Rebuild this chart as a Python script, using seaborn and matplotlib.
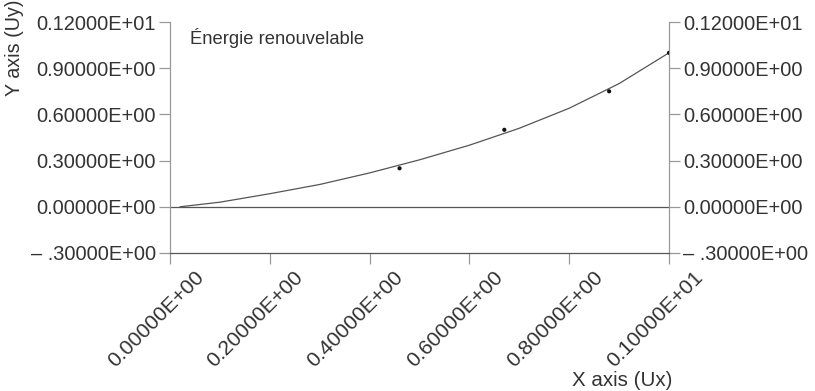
import matplotlib
matplotlib.use("Agg")
import matplotlib.pyplot as plt
import matplotlib.transforms as mtransforms
import seaborn as sns
import pandas as pd

# Fitted curve (polyline) and measured points
curve_x = [0.02, 0.1, 0.2, 0.3, 0.4, 0.5, 0.6, 0.7, 0.8, 0.9, 1.0]
curve_y = [0.0, 0.03, 0.085, 0.145, 0.22, 0.305, 0.40, 0.51, 0.64, 0.80, 1.0]
point_x = [0.46, 0.67, 0.88, 1.0]
point_y = [0.25, 0.50, 0.75, 1.0]

x_ticks = [0.0, 0.2, 0.4, 0.6, 0.8, 1.0]
x_tick_labels = ["0.00000E+00", "0.20000E+00", "0.40000E+00",
                 "0.60000E+00", "0.80000E+00", "0.10000E+01"]
y_ticks = [-0.3, 0.0, 0.3, 0.6, 0.9, 1.2]
y_tick_labels = ["– .30000E+00", "0.00000E+00", "0.30000E+00",
                 "0.60000E+00", "0.90000E+00", "0.12000E+01"]

sns.set_theme(style="white")
plt.rcParams["font.family"] = ["Liberation Sans", "DejaVu Sans"]

fig = plt.figure(figsize=(8.15, 3.91), dpi=100)
ax = fig.add_axes([170 / 815, 1 - 253 / 391, 499 / 815, 231 / 391])

curve = pd.DataFrame({"x": curve_x, "y": curve_y})
pts = pd.DataFrame({"x": point_x, "y": point_y})

sns.lineplot(data=curve, x="x", y="y", ax=ax, color="#555555", linewidth=0.9,
             sort=False)
sns.scatterplot(data=pts, x="x", y="y", ax=ax, color="#111111", s=9,
                edgecolor="none", zorder=5)

ax.axhline(0.0, color="#555555", linewidth=0.9, zorder=1)

ax.set_xlim(0.0, 1.0)
ax.set_ylim(-0.3, 1.2)

ax.set_xticks(x_ticks)
ax.set_xticklabels(x_tick_labels, rotation=45, ha="right",
                   rotation_mode="anchor")
ax.set_yticks(y_ticks)
ax.set_yticklabels(y_tick_labels)

txt = "#333333"
ax.tick_params(axis="both", which="major", labelsize=14.4, colors="#999999",
               labelcolor=txt, length=8, width=0.9, pad=2)
ax.tick_params(axis="y", left=True, right=True, labelleft=True,
               labelright=True)
ax.tick_params(axis="x", bottom=True, pad=3, labelsize=15.2)

# Rotated x tick labels sit a little to the right of their ticks
shift = mtransforms.ScaledTranslation(0.24, 0.01, fig.dpi_scale_trans)
for lab in ax.get_xticklabels():
    lab.set_transform(lab.get_transform() + shift)

for side in ["left", "right"]:
    ax.spines[side].set_color("#999999")
    ax.spines[side].set_linewidth(0.9)
ax.spines["bottom"].set_color("#555555")
ax.spines["bottom"].set_linewidth(0.9)
ax.spines["top"].set_visible(False)

ax.set_xlabel("")
ax.set_ylabel("")

ax.text(0.04, 0.93, "Énergie renouvelable", transform=ax.transAxes,
        fontsize=13.2, color=txt, ha="left", va="center")

fig.text(14 / 815, 1 - 48 / 391, "Y axis (Uy)", rotation=90, fontsize=14.2,
         color=txt, ha="center", va="center")
fig.text(622 / 815, 1 - 381 / 391, "X axis (Ux)", fontsize=14.8,
         color=txt, ha="center", va="center")

fig.savefig("out.png", dpi=100)
